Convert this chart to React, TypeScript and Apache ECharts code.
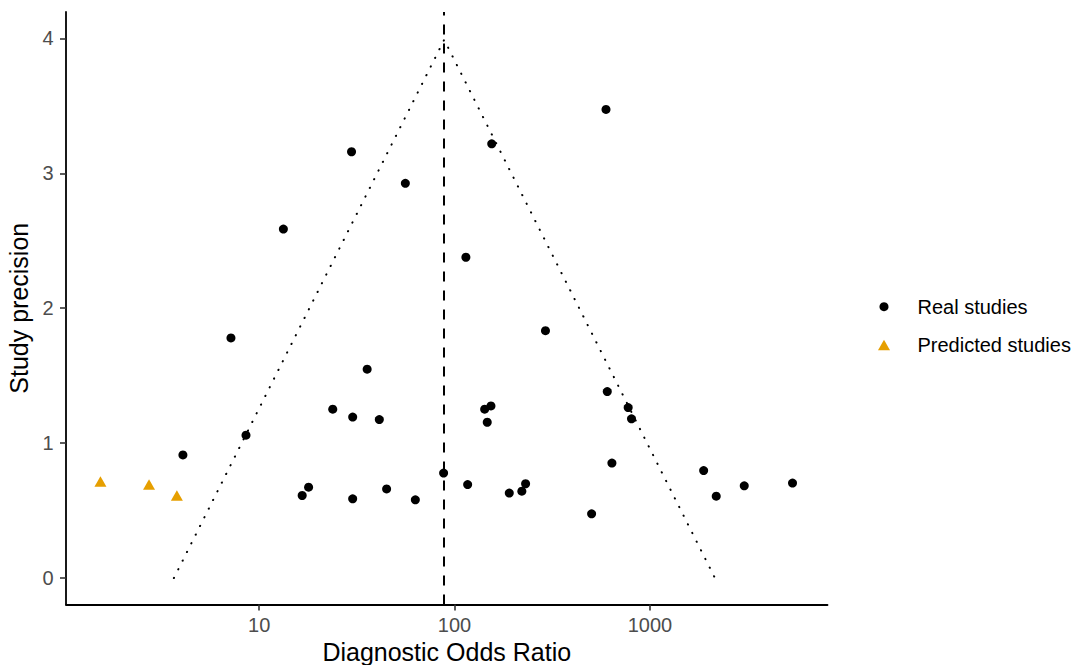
import React, { useEffect, useRef } from "react";
import * as echarts from "echarts";

// Real studies: diagnostic odds ratio (x) and study precision (y)
const realDOR = [
  29.7, 13.3, 7.17, 23.8, 30.1, 8.56, 4.07, 16.6, 17.9, 30.1, 35.7, 41.2, 44.9, 63.0,
  87.9, 116.7, 142.6, 153.6, 147, 190.6, 221, 231, 292, 503, 605, 774, 805, 639, 1884,
  2185, 3040, 5370, 596, 155, 56.0, 114.3,
];
const realPrecision = [
  3.16, 2.587, 1.78, 1.252, 1.193, 1.059, 0.913, 0.612, 0.674, 0.587, 1.548, 1.175, 0.661,
  0.58, 0.778, 0.693, 1.252, 1.276, 1.155, 0.63, 0.644, 0.699, 1.834, 0.476, 1.382, 1.264,
  1.18, 0.852, 0.797, 0.607, 0.684, 0.704, 3.474, 3.219, 2.926, 2.378,
];

// Predicted (imputed) studies
const predictedDOR = [1.54, 2.73, 3.79];
const predictedPrecision = [0.703, 0.68, 0.6];

// Pooled estimate and funnel outline
const pooledDOR = 88.5;
const funnelDOR = [3.66, 88.5, 2153];
const funnelPrecision = [0, 3.99, 0];

// Axis ticks
const xTicks = [10, 100, 1000];
const yTicks = [0, 1, 2, 3, 4];
const xMin = 1.026;
const xMax = 8110;
const yMin = -0.196;
const yMax = 4.196;

const FONT = "'Liberation Sans', Arial, Helvetica, sans-serif";

export default function App() {
  const ref = useRef<HTMLDivElement>(null);

  useEffect(() => {
    if (!ref.current) return;
    const chart = echarts.init(ref.current, undefined, { renderer: "svg" });

    const realData = realDOR.map((x, i) => [x, realPrecision[i]]);
    const predData = predictedDOR.map((x, i) => [x, predictedPrecision[i]]);
    const funnelData = funnelDOR.map((x, i) => [x, funnelPrecision[i]]);

    chart.setOption({
      animation: false,
      textStyle: { fontFamily: FONT },
      grid: {
        left: 66,
        right: 247.5,
        top: 12,
        bottom: 60.5,
        containLabel: false,
        outerBoundsMode: "none",
      },
      xAxis: {
        type: "log",
        logBase: 10,
        min: xMin,
        max: xMax,
        name: "Diagnostic Odds Ratio",
        nameLocation: "middle",
        nameGap: 31.5,
        nameTextStyle: { fontSize: 25, color: "#000", fontFamily: FONT },
        axisLine: { onZero: false, lineStyle: { color: "#000", width: 1.8 } },
        axisTick: {
          show: true,
          customValues: xTicks,
          length: 6,
          lineStyle: { color: "#333", width: 1.6 },
        },
        axisLabel: {
          customValues: xTicks,
          margin: 10,
          fontSize: 20,
          color: "#4D4D4D",
          fontFamily: FONT,
          formatter: (v: number) => String(Math.round(v)),
        },
        splitLine: { show: false },
        minorTick: { show: false },
        minorSplitLine: { show: false },
      },
      yAxis: {
        type: "value",
        min: yMin,
        max: yMax,
        name: "Study precision",
        nameLocation: "middle",
        nameGap: 31,
        nameTextStyle: { fontSize: 25, color: "#000", fontFamily: FONT },
        axisLine: { show: true, onZero: false, lineStyle: { color: "#000", width: 1.8 } },
        axisTick: {
          show: true,
          customValues: yTicks,
          length: 6,
          lineStyle: { color: "#333", width: 1.6 },
        },
        axisLabel: {
          customValues: yTicks,
          margin: 12.5,
          fontSize: 20,
          color: "#4D4D4D",
          fontFamily: FONT,
          formatter: (v: number) => String(v),
        },
        splitLine: { show: false },
      },
      legend: [
        {
          data: [{ name: "Real studies", icon: "circle" }],
          left: 879.5,
          top: 296.7,
          padding: 0,
          itemWidth: 9,
          itemHeight: 9,
          selectedMode: false,
          textStyle: { fontSize: 20, color: "#000", fontFamily: FONT, padding: [0, 0, 0, 24] },
        },
        {
          data: [{ name: "Predicted studies", icon: "triangle" }],
          left: 878,
          top: 335,
          padding: 0,
          itemWidth: 12,
          itemHeight: 10.5,
          selectedMode: false,
          textStyle: { fontSize: 20, color: "#000", fontFamily: FONT, padding: [0, 0, 0, 22.5] },
        },
      ],
      series: [
        {
          name: "Funnel",
          type: "line",
          data: funnelData,
          symbol: "none",
          silent: true,
          z: 1,
          lineStyle: { color: "#000", width: 2, type: [0.3, 9.4], cap: "round" },
          markLine: {
            silent: true,
            symbol: "none",
            label: { show: false },
            lineStyle: { color: "#000", width: 2, type: [10, 9] },
            data: [{ xAxis: pooledDOR }],
          },
        },
        {
          name: "Real studies",
          type: "scatter",
          data: realData,
          symbol: "circle",
          symbolSize: 9,
          z: 5,
          itemStyle: { color: "#000", opacity: 1 },
        },
        {
          name: "Predicted studies",
          type: "scatter",
          data: predData,
          symbol: "triangle",
          symbolSize: [12, 10.5],
          symbolOffset: [0, -1.7],
          z: 5,
          itemStyle: { color: "#E69F00", opacity: 1 },
        },
      ],
    });

    return () => chart.dispose();
  }, []);

  return (
    <div
      ref={ref}
      style={{ position: "fixed", left: 0, top: 0, width: 1075, height: 665, background: "#fff" }}
    />
  );
}
